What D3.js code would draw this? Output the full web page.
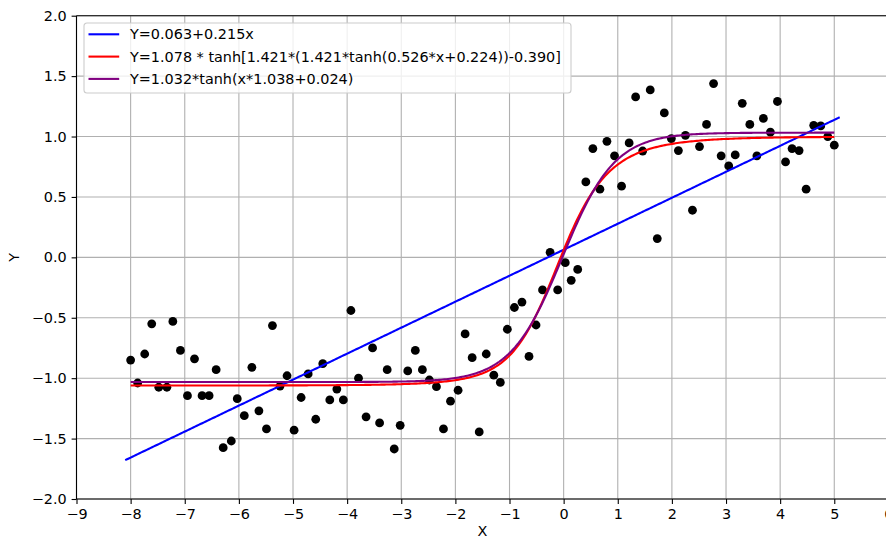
<!DOCTYPE html>
<html>
<head>
<meta charset="utf-8">
<script src="https://cdn.jsdelivr.net/npm/d3@7"></script>
<style>
  html, body { margin: 0; padding: 0; background: #fff; }
  svg { display: block; font-family: "DejaVu Sans", sans-serif; }
</style>
</head>
<body>
<svg id="chart" width="886" height="540"></svg>
<script>
// Observed samples
const xValues = [-8.00,-7.87,-7.74,-7.61,-7.48,-7.33,-7.22,-7.08,-6.95,-6.82,-6.68,-6.55,-6.42,-6.29,-6.14,-6.03,-5.90,-5.76,-5.63,-5.49,-5.38,-5.24,-5.11,-4.98,-4.85,-4.72,-4.58,-4.45,-4.32,-4.19,-4.07,-3.93,
  -3.79,-3.65,-3.53,-3.40,-3.26,-3.13,-3.02,-2.88,-2.74,-2.61,-2.48,-2.35,-2.22,-2.09,-1.95,-1.82,-1.69,-1.56,-1.43,-1.29,-1.17,-1.04,-0.91,-0.77,-0.64,-0.51,-0.39,-0.25,-0.11,0.03,0.14,0.26,
  0.41,0.54,0.67,0.80,0.94,1.07,1.21,1.33,1.46,1.60,1.73,1.86,1.99,2.12,2.25,2.38,2.51,2.64,2.77,2.91,3.05,3.17,3.30,3.44,3.57,3.69,3.82,3.95,4.10,4.22,4.35,4.48,4.62,4.75,4.88,5.00];
const yValues = [-0.85,-1.04,-0.80,-0.55,-1.075,-1.075,-0.53,-0.77,-1.145,-0.84,-1.145,-1.145,-0.93,-1.575,-1.52,-1.17,-1.31,-0.91,-1.27,-1.42,-0.565,-1.065,-0.98,-1.43,-1.16,-0.965,-1.34,-0.88,-1.18,-1.09,-1.18,-0.44,
  -1.0,-1.32,-0.75,-1.37,-0.93,-1.586,-1.39,-0.94,-0.77,-0.93,-1.015,-1.07,-1.42,-1.19,-1.10,-0.634,-0.83,-1.445,-0.80,-0.975,-1.035,-0.595,-0.415,-0.37,-0.82,-0.56,-0.27,0.042,-0.27,-0.044,-0.19,-0.10,
  0.624,0.90,0.564,0.96,0.84,0.589,0.947,1.328,0.88,1.386,0.155,1.195,0.983,0.884,1.01,0.39,0.917,1.10,1.438,0.84,0.757,0.848,1.275,1.10,0.84,1.15,1.036,1.29,0.79,0.90,0.884,0.564,1.093,1.088,1.0,0.928];

// Fitted model coefficients (as printed in the legend)
const linearCoef = [0.063, 0.215];                  // a + b*x
const nestedTanhCoef = [1.078, 1.421, 1.421, 0.526, 0.224, 0.390];
const tanhCoef = [1.032, 1.038, 0.024];              // A*tanh(x*k + c)
const linearXRange = [-8.1, 5.1];
const curveXRange = [-8.0, 5.0];

const legendLabels = [
  "Y=0.063+0.215x",
  "Y=1.078 * tanh[1.421*(1.421*tanh(0.526*x+0.224))-0.390]",
  "Y=1.032*tanh(x*1.038+0.024)"
];
const seriesColors = ["blue", "red", "purple"];
const xTicks = [-9,-8,-7,-6,-5,-4,-3,-2,-1,0,1,2,3,4,5,6];
const yTicks = [-2.0,-1.5,-1.0,-0.5,0.0,0.5,1.0,1.5,2.0];

const linearFn = x => linearCoef[0] + linearCoef[1] * x;
const nestedFn = x => {
  const [A, p, q, k, c, d] = nestedTanhCoef;
  return A * Math.tanh(p * (q * Math.tanh(k * x + c)) - d);
};
const tanhFn = x => tanhCoef[0] * Math.tanh(x * tanhCoef[1] + tanhCoef[2]);

const svg = d3.select("#chart");
const plot = { left: 76.5, right: 888.4, top: 15.7, bottom: 499 };
const fs = 14.4;

const x = d3.scaleLinear().domain([-9, 6]).range([plot.left, plot.right]);
const y = d3.scaleLinear().domain([-2, 2]).range([plot.bottom, plot.top]);

// grid
const grid = svg.append("g").attr("stroke", "#b0b0b0").attr("stroke-width", 1.1);
grid.selectAll("line.v").data(xTicks).join("line")
  .attr("x1", d => x(d)).attr("x2", d => x(d))
  .attr("y1", plot.top).attr("y2", plot.bottom);
grid.selectAll("line.h").data(yTicks).join("line")
  .attr("x1", plot.left).attr("x2", plot.right)
  .attr("y1", d => y(d)).attr("y2", d => y(d));

// scatter
svg.append("g").selectAll("circle").data(d3.zip(xValues, yValues)).join("circle")
  .attr("cx", d => x(d[0])).attr("cy", d => y(d[1])).attr("r", 4.4)
  .attr("fill", "black");

// fitted curves
const sampleCount = 400;
function samples(fn, range) {
  const step = (range[1] - range[0]) / (sampleCount - 1);
  return d3.range(sampleCount).map(i => {
    const xv = range[0] + i * step;
    return [xv, fn(xv)];
  });
}
const line = d3.line().x(d => x(d[0])).y(d => y(d[1]));
const curves = [
  samples(linearFn, linearXRange),
  samples(nestedFn, curveXRange),
  samples(tanhFn, curveXRange)
];
svg.append("g").selectAll("path").data(curves).join("path")
  .attr("d", line).attr("fill", "none")
  .attr("stroke", (d, i) => seriesColors[i]).attr("stroke-width", 2.1);

// axes
const xAxis = d3.axisBottom(x).tickValues(xTicks).tickSize(4.9).tickPadding(4.9)
  .tickFormat(d3.format("d"));
const gx = svg.append("g").attr("transform", `translate(0,${plot.bottom})`).call(xAxis);
const yAxis = d3.axisLeft(y).tickValues(yTicks).tickSize(4.9).tickPadding(4.9)
  .tickFormat(d3.format(".1f"));
const gy = svg.append("g").attr("transform", `translate(${plot.left},0)`).call(yAxis);
[gx, gy].forEach(g => {
  g.selectAll("text").attr("font-size", fs).attr("font-family", "DejaVu Sans").attr("fill", "black");
  g.selectAll(".tick line").attr("stroke", "black").attr("stroke-width", 1.1);
  g.select(".domain").remove();
});
// spines
svg.append("line").attr("x1", plot.left).attr("x2", plot.right)
  .attr("y1", plot.bottom).attr("y2", plot.bottom).attr("stroke", "black").attr("stroke-width", 1.1);
svg.append("line").attr("x1", plot.left).attr("x2", plot.right)
  .attr("y1", plot.top).attr("y2", plot.top).attr("stroke", "black").attr("stroke-width", 1.1);
svg.append("line").attr("x1", plot.left).attr("x2", plot.left)
  .attr("y1", plot.top).attr("y2", plot.bottom).attr("stroke", "black").attr("stroke-width", 1.1);

// axis titles
svg.append("text").attr("x", x(-1.5)).attr("y", 536).attr("text-anchor", "middle")
  .attr("font-size", fs).text("X");
svg.append("text").attr("transform", `translate(19,${y(0)}) rotate(-90)`)
  .attr("text-anchor", "middle").attr("font-size", fs).text("Y");

// legend
const lg = svg.append("g").attr("transform", "translate(84,23)");
lg.append("rect").attr("width", 487).attr("height", 70).attr("rx", 3)
  .attr("fill", "white").attr("fill-opacity", 0.8)
  .attr("stroke", "#cccccc").attr("stroke-width", 1.1);
legendLabels.forEach((lab, i) => {
  const cy = 11.3 + i * 22.3;
  lg.append("line").attr("x1", 4.5).attr("x2", 35.2).attr("y1", cy).attr("y2", cy)
    .attr("stroke", seriesColors[i]).attr("stroke-width", 2.1);
  lg.append("text").attr("x", 46).attr("y", cy).attr("dy", "0.35em")
    .attr("font-size", fs).attr("fill", "black").text(lab);
});
</script>
</body>
</html>
